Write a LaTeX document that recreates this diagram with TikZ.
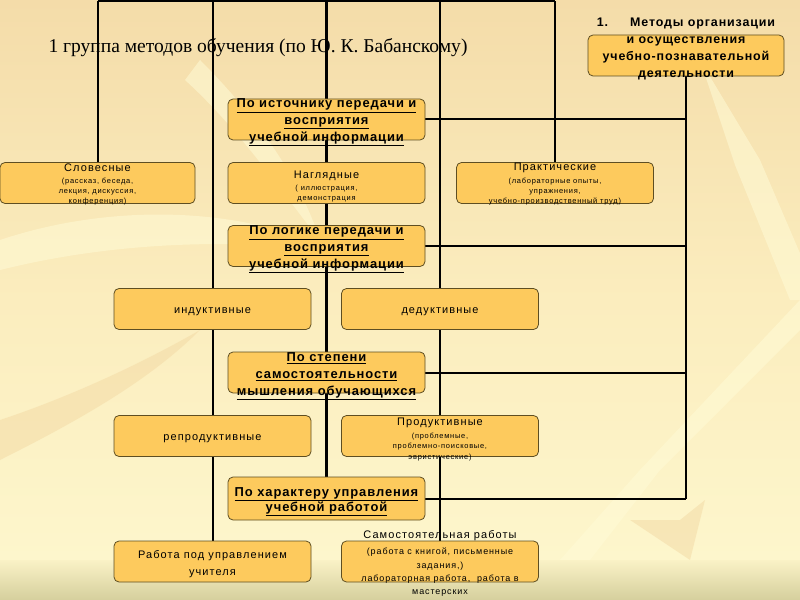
\documentclass[tikz,border=0pt]{standalone}
\usepackage{fontspec}
\setmainfont{Liberation Sans}
\newfontfamily\serif{Liberation Serif}
\newfontfamily\rg[LetterSpace=10]{Liberation Sans}
\newfontfamily\bd[LetterSpace=7]{Liberation Sans}
\definecolor{boxfill}{HTML}{FDCA5D}
\definecolor{boxline}{HTML}{5E4E22}
\definecolor{bgtop}{HTML}{F4DCA9}
\definecolor{bgmid}{HTML}{FBEDBE}
\definecolor{bgbot}{HTML}{FDF6CC}
\definecolor{bandtop}{HTML}{FAF2C6}
\definecolor{bandbot}{HTML}{D5CF9D}
\definecolor{leaf}{HTML}{FFFBD6}
\definecolor{leafdark}{HTML}{F3D9A4}
\pgfdeclarelayer{bg}
\pgfdeclarelayer{lines}
\pgfsetlayers{bg,lines,main}
\newcommand\bt[2]{\raisebox{-#1}[0pt][0pt]{\begin{tabular}[b]{@{}c@{}}#2\end{tabular}}}
\newcommand\catf{\bd\bfseries\fontsize{13}{17}\selectfont}
\newcommand\smf{\rg\fontsize{7.5}{10.5}\selectfont}
\newcommand\mdf{\rg\fontsize{11}{17}\selectfont}
\newcommand\hd[1]{{\fontsize{11}{12}\selectfont #1}}
\begin{document}
\begin{tikzpicture}[x=1bp,y=-1bp,
  boxst/.style={draw=boxline, line width=0.8bp, fill=boxfill, rounded corners=5bp,
    inner sep=0pt, minimum width=197bp, minimum height=41bp},
  conn/.style={draw=black, line width=2bp},
  thickconn/.style={draw=black, line width=2.6bp},
  leafst/.style={fill=leaf, opacity=0.55},
  leafdk/.style={fill=leafdark, opacity=0.5}]
\useasboundingbox (0,0) rectangle (800,600);
\begin{pgfonlayer}{bg}
  \shade[top color=bgtop, bottom color=bgmid] (0,0) rectangle (800,300);
  \shade[top color=bgmid, bottom color=bgbot] (0,300) rectangle (800,560);
  \fill[leafst] (560,560) -- (640,470) -- (800,300) -- (800,330) -- (660,470) -- (590,560) -- cycle;
  \fill[leafst] (700,60) -- (760,160) -- (820,300) -- (790,300) -- (735,165) -- cycle;
  \fill[leafst] (0,240) .. controls (120,200) and (250,210) .. (330,250) .. controls (240,240) and (120,240) .. (0,270) -- cycle;
  \fill[leafdk] (0,420) .. controls (60,400) and (130,370) .. (200,330) .. controls (150,380) and (80,420) .. (0,460) -- cycle;
  \fill[leafdk] (630,520) -- (690,560) -- (705,500) -- (680,520) -- cycle;
  \fill[leafst] (200,60) .. controls (260,120) and (300,180) .. (320,240) .. controls (280,190) and (240,130) .. (185,80) -- cycle;
  \shade[top color=bandtop, bottom color=bandbot] (0,560) rectangle (800,600);
\end{pgfonlayer}

\node[anchor=base west] (title) at (45,53) {\serif\fontsize{19.6}{22}\selectfont 1 группа методов обучения (по Ю. К. Бабанскому)};

\node[boxst, minimum width=196bp] (met) at (686,55.5) {\bd\bfseries\fontsize{12.5}{17}\selectfont\bt{22bp}{1.\hspace{22bp}Методы организации\\и осуществления\\учебно-познавательной\\деятельности}};

\node[boxst] (src) at (326.5,119.5) {\catf\bt{22bp}{\underline{По источнику передачи и}\\\underline{восприятия}\\\underline{учебной информации}}};
\node[boxst, minimum width=195bp] (slov) at (97.5,183) {\smf\bt{21bp}{\hd{Словесные}\\[1.5bp](рассказ, беседа,\\лекция, дискуссия,\\конференция)}};
\node[boxst] (nagl) at (326.5,183) {\smf\bt{17.5bp}{\hd{Наглядные}\\[1.5bp]( иллюстрация,\\демонстрация}};
\node[boxst] (prak) at (555,183) {\smf\bt{21bp}{\hd{Практические}\\[2.5bp](лабораторные опыты,\\упражнения,\\учебно-производственный труд)}};

\node[boxst] (log) at (326.5,246) {\catf\bt{22.5bp}{\underline{По логике передачи и}\\\underline{восприятия}\\\underline{учебной информации}}};
\node[boxst] (ind) at (212.5,309) {\mdf\bt{4.5bp}{индуктивные}};
\node[boxst] (ded) at (440,309) {\mdf\bt{4.5bp}{дедуктивные}};

\node[boxst] (stp) at (326.5,372.5) {\catf\bt{23bp}{\underline{По степени}\\\underline{самостоятельности}\\\underline{мышления обучающихся}}};
\node[boxst] (repr) at (212.5,436) {\mdf\bt{4.5bp}{репродуктивные}};
\node[boxst] (prod) at (440,436) {\smf\bt{23.3bp}{\hd{Продуктивные}\\[2bp](проблемные,\\проблемно-поисковые,\\эвристические)}};

\node[boxst, minimum height=43bp] (chr) at (326.5,498.5) {\bd\bfseries\fontsize{13}{15}\selectfont\bt{13bp}{\underline{По характеру управления}\\\underline{учебной работой}}};
\node[boxst] (rab) at (212.5,561.5) {\mdf\bt{14bp}{Работа под управлением\\учителя}};
\node[boxst] (sam) at (440,561.5) {\rg\fontsize{9}{13.3}\selectfont\bt{33bp}{\hd{Самостоятельная работы}\\[2.7bp](работа с книгой, письменные\\задания,)\\лабораторная работа,~ работа в\\мастерских}};

\coordinate (t1) at (97.5,1.5);
\coordinate (t2) at (212.5,1.5);
\coordinate (t3) at (326.5,1.5);
\coordinate (t4) at (440,1.5);
\coordinate (t5) at (555,1.5);
\coordinate (rb) at (met.south |- chr.east);

\begin{pgfonlayer}{lines}
  \draw[conn] (t1) -- (t5);
  \draw[conn] (t1) -- (slov.north);
  \draw[conn] (t2) -- (rab.north);
  \draw[thickconn] (t3) -- (chr.north);
  \draw[thickconn] (t4) -- (sam.north);
  \draw[conn] (t5) -- (prak.north);
  \draw[conn] (met.south) -- (rb);
  \draw[conn] (src.east) -- (src.east -| met.south);
  \draw[conn] (log.east) -- (log.east -| met.south);
  \draw[conn] (stp.east) -- (stp.east -| met.south);
  \draw[conn] (chr.east) -- (rb);
\end{pgfonlayer}
\end{tikzpicture}
\end{document}
